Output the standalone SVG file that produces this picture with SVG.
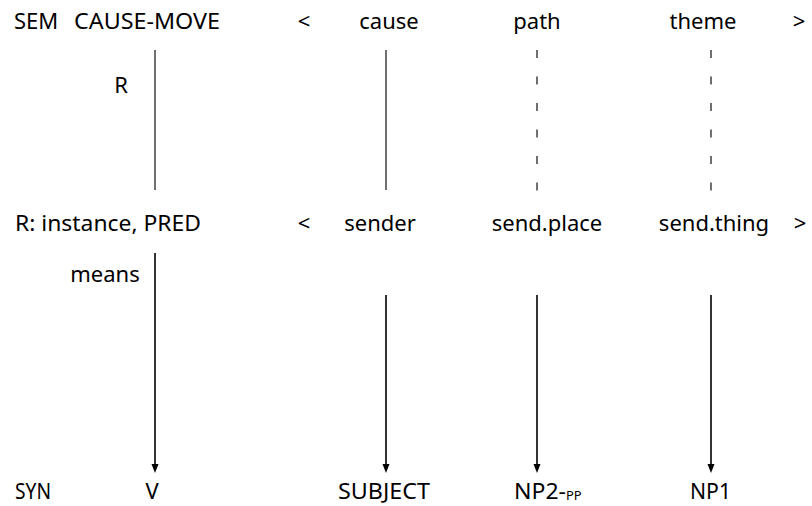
<svg xmlns="http://www.w3.org/2000/svg" width="812" height="506" viewBox="0 0 812 506">
<defs>
<style>
text{font-family:"Noto Sans","Open Sans","Liberation Sans",sans-serif;font-size:22px;fill:#000}
.syn{font-size:22px}
.sub{font-size:13px}
.m{text-anchor:middle}
.solid{stroke:#333;stroke-width:1.4;fill:none}
.dash{stroke:#333;stroke-width:1.4;fill:none;stroke-dasharray:8 18.5}
.arr{stroke:#000;stroke-width:1.6;fill:none}
</style>
</defs>
<rect width="812" height="506" fill="#fff"/>
<g id="connectors">
<line class="solid" x1="155" y1="50" x2="155" y2="190"/>
<line class="solid" x1="386" y1="50" x2="386" y2="190"/>
<line class="dash" x1="537" y1="50" x2="537" y2="192"/>
<line class="dash" x1="711" y1="50" x2="711" y2="192"/>
<line class="arr" x1="155" y1="253" x2="155" y2="466"/>
<line class="arr" x1="386" y1="295" x2="386" y2="466"/>
<line class="arr" x1="537" y1="295" x2="537" y2="466"/>
<line class="arr" x1="711" y1="295" x2="711" y2="466"/>
<polygon points="151.5,464 158.5,464 155,473" fill="#000"/>
<polygon points="382.5,464 389.5,464 386,473" fill="#000"/>
<polygon points="533.5,464 540.5,464 537,473" fill="#000"/>
<polygon points="707.5,464 714.5,464 711,473" fill="#000"/>
</g>
<g id="sem-row">
<text x="14" y="29">SEM</text>
<text x="74" y="29" textLength="146" lengthAdjust="spacingAndGlyphs">CAUSE-MOVE</text>
<text x="304" y="29" class="m">&lt;</text>
<text x="389" y="29" class="m">cause</text>
<text x="537" y="29" class="m">path</text>
<text x="703" y="29" class="m">theme</text>
<text x="799" y="29" class="m">&gt;</text>
</g>
<g id="r-label"><text x="121" y="93" class="m">R</text></g>
<g id="r-row">
<text x="15" y="231" textLength="186" lengthAdjust="spacingAndGlyphs">R: instance, PRED</text>
<text x="304" y="231" class="m">&lt;</text>
<text x="380" y="231" class="m">sender</text>
<text x="547" y="231" class="m">send.place</text>
<text x="714" y="231" class="m">send.thing</text>
<text x="800" y="231" class="m">&gt;</text>
</g>
<g id="means-label"><text x="105" y="282" class="m">means</text></g>
<g id="syn-row">
<text x="15" y="499" class="syn" textLength="36" lengthAdjust="spacingAndGlyphs">SYN</text>
<text x="152" y="499" class="syn m">V</text>
<text x="338" y="499" class="syn" textLength="92" lengthAdjust="spacingAndGlyphs">SUBJECT</text>
<text x="514" y="499" class="syn" textLength="52" lengthAdjust="spacingAndGlyphs">NP2-</text>
<text x="566" y="500" class="sub">PP</text>
<text x="690" y="499" class="syn" textLength="41" lengthAdjust="spacingAndGlyphs">NP1</text>
</g>
</svg>
